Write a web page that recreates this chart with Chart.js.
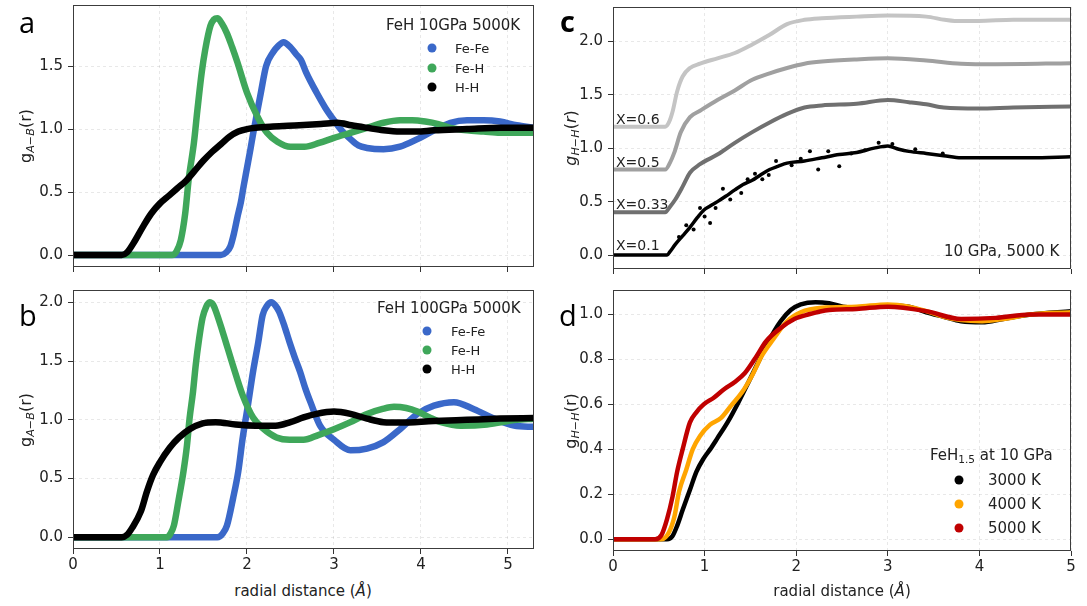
<!DOCTYPE html>
<html>
<head>
<meta charset="utf-8">
<script src="https://cdn.jsdelivr.net/npm/chart.js@4.4.0/dist/chart.umd.min.js"></script>
<style>
  html, body { margin: 0; padding: 0; background: #fff; }
  #fig { position: relative; width: 1087px; height: 606px; overflow: hidden;
         font-family: 'DejaVu Sans', sans-serif; color: #222; }
  canvas { position: absolute; }
  .txt { position: absolute; white-space: nowrap; line-height: 1; }
  .letter { font-family: 'Open Sans', sans-serif; font-size: 29px; line-height: 29px; color: #000; }
  .ylab { font-size: 16px; transform: translate(-50%, -50%) rotate(-90deg); }
  .xlab { font-size: 15px; transform: translate(-50%, -50%); }
  .mid { transform: translateY(-50%); }
  .sub { font-size: 0.7em; position: relative; top: 0.3em; }
  .dot { position: absolute; width: 9px; height: 9px; border-radius: 50%; transform: translate(-50%, -50%); }
</style>
</head>
<body>
<div id="fig">
  <canvas id="chartA"></canvas>
  <canvas id="chartB"></canvas>
  <canvas id="chartC"></canvas>
  <canvas id="chartD"></canvas>

  <!-- panel letters -->
  <div class="txt letter" style="left:19px; top:7px">a</div>
  <div class="txt letter" style="left:19px; top:300px">b</div>
  <div class="txt letter" style="left:560px; top:6px; font-weight:bold">c</div>
  <div class="txt letter" style="left:559px; top:300px">d</div>

  <!-- axis titles -->
  <div class="txt ylab" style="left:26px; top:136px">g<span class="sub"><i>A</i>−<i>B</i></span>(r)</div>
  <div class="txt ylab" style="left:26px; top:420px">g<span class="sub"><i>A</i>−<i>B</i></span>(r)</div>
  <div class="txt ylab" style="left:571px; top:138px"><i>g</i><span class="sub"><i>H</i>−<i>H</i></span>(<i>r</i>)</div>
  <div class="txt ylab" style="left:571px; top:421px">g<span class="sub"><i>H</i>−<i>H</i></span>(r)</div>
  <div class="txt xlab" style="left:303px; top:591px">radial distance (<i>Å</i>)</div>
  <div class="txt xlab" style="left:842px; top:591px">radial distance (<i>Å</i>)</div>

  <!-- legend a -->
  <div class="txt mid" style="left:386px; top:25px; font-size:15px">FeH 10GPa 5000K</div>
  <div class="dot" style="left:432px; top:48px; background:#3a68c9"></div>
  <div class="dot" style="left:432px; top:68px; background:#3fa75a"></div>
  <div class="dot" style="left:432px; top:87px; background:#000"></div>
  <div class="txt mid" style="left:455px; top:48px; font-size:13px">Fe-Fe</div>
  <div class="txt mid" style="left:455px; top:68px; font-size:13px">Fe-H</div>
  <div class="txt mid" style="left:455px; top:87px; font-size:13px">H-H</div>

  <!-- legend b -->
  <div class="txt mid" style="left:377px; top:308px; font-size:15px">FeH 100GPa 5000K</div>
  <div class="dot" style="left:427px; top:331px; background:#3a68c9"></div>
  <div class="dot" style="left:427px; top:350px; background:#3fa75a"></div>
  <div class="dot" style="left:427px; top:369px; background:#000"></div>
  <div class="txt mid" style="left:451px; top:331px; font-size:13px">Fe-Fe</div>
  <div class="txt mid" style="left:451px; top:350px; font-size:13px">Fe-H</div>
  <div class="txt mid" style="left:451px; top:369px; font-size:13px">H-H</div>

  <!-- panel c labels -->
  <div class="txt mid" style="left:616px; top:119px; font-size:14px">X=0.6</div>
  <div class="txt mid" style="left:616px; top:162px; font-size:14px">X=0.5</div>
  <div class="txt mid" style="left:616px; top:204px; font-size:14px">X=0.33</div>
  <div class="txt mid" style="left:616px; top:245px; font-size:14px">X=0.1</div>
  <div class="txt mid" style="left:944px; top:251px; font-size:15px">10 GPa, 5000 K</div>

  <!-- legend d -->
  <div class="txt mid" style="left:930px; top:455px; font-size:15px">FeH<span class="sub">1.5</span> at 10 GPa</div>
  <div class="dot" style="left:959px; top:480px; background:#000"></div>
  <div class="dot" style="left:959px; top:504px; background:#ffa500"></div>
  <div class="dot" style="left:959px; top:528px; background:#c00000"></div>
  <div class="txt mid" style="left:988px; top:480px; font-size:15px">3000 K</div>
  <div class="txt mid" style="left:988px; top:504px; font-size:15px">4000 K</div>
  <div class="txt mid" style="left:988px; top:528px; font-size:15px">5000 K</div>
</div>

<script>
// ---- tick values ----
const xTicks = [0, 1, 2, 3, 4, 5];
const yTicksA = [0, 0.5, 1.0, 1.5];
const yTicksB = [0, 0.5, 1.0, 1.5, 2.0];
const yTicksC = [0, 0.5, 1.0, 1.5, 2.0];
const yTicksD = [0, 0.2, 0.4, 0.6, 0.8, 1.0];

// ---- panel a: FeH 10 GPa 5000 K, [r, g] ----
const feFe10 = [[0,0],[1.70,0],[1.76,0.02],[1.81,0.07],[1.85,0.17],[1.89,0.30],[1.93,0.42],[1.96,0.54],[2.00,0.69],[2.04,0.84],[2.07,0.96],[2.10,1.07],[2.16,1.29],[2.22,1.50],[2.30,1.61],[2.36,1.66],[2.42,1.69],[2.50,1.65],[2.57,1.59],[2.62,1.55],[2.68,1.45],[2.80,1.29],[2.90,1.17],[3.00,1.07],[3.10,0.98],[3.19,0.92],[3.28,0.87],[3.38,0.85],[3.57,0.84],[3.76,0.86],[3.96,0.92],[4.15,0.99],[4.34,1.05],[4.53,1.07],[4.72,1.07],[4.91,1.06],[5.10,1.03],[5.30,1.01]];
const feH10 = [[0,0],[1.14,0],[1.19,0.03],[1.24,0.12],[1.29,0.33],[1.33,0.60],[1.39,0.89],[1.43,1.15],[1.48,1.45],[1.52,1.63],[1.58,1.82],[1.62,1.87],[1.66,1.88],[1.71,1.84],[1.77,1.76],[1.83,1.65],[1.89,1.53],[2.00,1.29],[2.12,1.10],[2.23,0.97],[2.35,0.90],[2.50,0.86],[2.66,0.86],[2.83,0.89],[3.00,0.93],[3.19,0.97],[3.38,1.01],[3.57,1.05],[3.76,1.07],[3.90,1.07],[4.05,1.06],[4.20,1.04],[4.34,1.01],[4.53,0.99],[4.72,0.98],[4.91,0.97],[5.30,0.97]];
const hH10 = [[0,0],[0.56,0],[0.62,0.02],[0.70,0.10],[0.80,0.22],[0.90,0.33],[1.00,0.41],[1.10,0.47],[1.20,0.53],[1.30,0.59],[1.40,0.67],[1.50,0.75],[1.60,0.82],[1.70,0.88],[1.80,0.94],[1.90,0.98],[2.00,1.00],[2.10,1.01],[2.30,1.02],[2.60,1.03],[2.85,1.04],[3.04,1.05],[3.20,1.03],[3.38,1.01],[3.57,0.99],[3.76,0.98],[3.95,0.98],[4.15,0.99],[4.53,1.00],[4.91,1.01],[5.30,1.01]];

// ---- panel b: FeH 100 GPa 5000 K ----
const feFe100 = [[0,0],[1.66,0],[1.72,0.03],[1.77,0.10],[1.84,0.33],[1.90,0.56],[1.95,0.84],[2.01,1.12],[2.07,1.41],[2.13,1.66],[2.18,1.89],[2.23,1.97],[2.28,2.00],[2.33,1.97],[2.37,1.92],[2.43,1.80],[2.49,1.66],[2.55,1.53],[2.61,1.41],[2.67,1.27],[2.73,1.15],[2.84,0.95],[3.00,0.83],[3.19,0.74],[3.38,0.755],[3.57,0.81],[3.76,0.92],[3.96,1.05],[4.15,1.12],[4.38,1.15],[4.61,1.09],[4.84,1.01],[5.07,0.95],[5.30,0.94]];
const feH100 = [[0,0],[1.08,0],[1.12,0.03],[1.16,0.10],[1.21,0.30],[1.27,0.56],[1.31,0.78],[1.34,1.01],[1.38,1.24],[1.41,1.46],[1.45,1.69],[1.49,1.87],[1.53,1.96],[1.57,2.00],[1.61,1.98],[1.64,1.93],[1.72,1.75],[1.84,1.46],[1.95,1.21],[2.07,1.02],[2.18,0.93],[2.34,0.85],[2.49,0.83],[2.65,0.83],[2.82,0.87],[3.00,0.92],[3.19,0.98],[3.38,1.05],[3.55,1.09],[3.69,1.11],[3.83,1.10],[3.96,1.07],[4.10,1.02],[4.23,0.98],[4.46,0.95],[4.76,0.96],[5.10,1.00],[5.30,1.01]];
const hH100 = [[0,0],[0.56,0],[0.62,0.02],[0.68,0.08],[0.78,0.22],[0.85,0.39],[0.92,0.53],[1.00,0.64],[1.11,0.76],[1.22,0.85],[1.34,0.92],[1.49,0.97],[1.64,0.98],[1.87,0.96],[2.10,0.95],[2.33,0.95],[2.50,0.98],[2.65,1.02],[2.80,1.05],[3.00,1.07],[3.19,1.05],[3.38,1.01],[3.57,0.98],[3.76,0.976],[4.15,0.99],[4.53,1.00],[4.91,1.01],[5.30,1.015]];

// ---- panel c: g_HH for several X (offset curves) ----
const x06 = [[0,1.2],[0.57,1.2],[0.61,1.24],[0.65,1.34],[0.70,1.53],[0.76,1.67],[0.84,1.75],[0.95,1.79],[1.14,1.84],[1.33,1.89],[1.52,1.97],[1.71,2.06],[1.90,2.16],[2.09,2.20],[2.28,2.215],[2.66,2.23],[3.00,2.24],[3.42,2.23],[3.62,2.20],[3.73,2.19],[3.99,2.19],[4.37,2.20],[5.00,2.20]];
const x05 = [[0,0.8],[0.57,0.8],[0.62,0.86],[0.67,0.96],[0.74,1.15],[0.84,1.29],[0.95,1.35],[1.14,1.45],[1.33,1.54],[1.52,1.64],[1.71,1.70],[1.90,1.75],[2.09,1.79],[2.28,1.81],[2.66,1.83],[3.00,1.84],[3.42,1.82],[3.80,1.79],[4.18,1.785],[5.00,1.795]];
const x033 = [[0,0.4],[0.57,0.4],[0.62,0.45],[0.68,0.52],[0.76,0.64],[0.84,0.77],[0.95,0.85],[1.14,0.94],[1.33,1.05],[1.52,1.15],[1.71,1.24],[1.90,1.32],[2.09,1.38],[2.28,1.40],[2.66,1.415],[3.00,1.45],[3.23,1.43],[3.42,1.41],[3.61,1.38],[3.99,1.37],[4.37,1.38],[5.00,1.39]];
const x01 = [[0,0],[0.59,0],[0.62,0.03],[0.68,0.10],[0.76,0.18],[0.84,0.26],[0.92,0.35],[0.99,0.42],[1.06,0.46],[1.14,0.50],[1.23,0.55],[1.33,0.61],[1.42,0.66],[1.52,0.70],[1.61,0.75],[1.71,0.80],[1.80,0.83],[1.90,0.86],[2.09,0.88],[2.28,0.91],[2.47,0.94],[2.66,0.96],[2.85,1.00],[3.00,1.02],[3.12,0.99],[3.23,0.97],[3.42,0.95],[3.61,0.93],[3.80,0.91],[4.18,0.91],[4.56,0.91],[5.00,0.92]];
const x01Stray = [[0.72,0.17],[0.80,0.28],[0.88,0.24],[0.95,0.44],[1.00,0.36],[1.06,0.30],[1.12,0.44],[1.20,0.62],[1.28,0.52],[1.40,0.58],[1.47,0.71],[1.55,0.76],[1.63,0.71],[1.70,0.75],[1.78,0.88],[1.95,0.84],[2.05,0.90],[2.15,0.97],[2.24,0.80],[2.35,0.97],[2.47,0.83],[2.60,0.95],[2.75,0.98],[2.90,1.05],[3.05,1.04],[3.30,0.99],[3.60,0.95]];

// ---- panel d: FeH1.5 at 10 GPa ----
const t3000 = [[0,0],[0.59,0],[0.65,0.015],[0.70,0.06],[0.76,0.13],[0.84,0.22],[0.91,0.30],[0.99,0.36],[1.06,0.40],[1.14,0.45],[1.25,0.52],[1.37,0.61],[1.48,0.70],[1.60,0.80],[1.71,0.89],[1.83,0.97],[1.94,1.02],[2.05,1.045],[2.21,1.055],[2.36,1.05],[2.51,1.035],[2.66,1.03],[3.00,1.04],[3.23,1.035],[3.42,1.01],[3.61,0.99],[3.80,0.97],[4.03,0.965],[4.26,0.98],[4.56,1.00],[5.00,1.015]];
const t4000 = [[0,0],[0.53,0],[0.61,0.03],[0.67,0.10],[0.72,0.21],[0.80,0.31],[0.87,0.40],[0.95,0.46],[1.06,0.51],[1.18,0.54],[1.29,0.595],[1.41,0.655],[1.52,0.73],[1.63,0.82],[1.75,0.89],[1.90,0.97],[2.05,1.01],[2.28,1.03],[2.66,1.035],[3.00,1.045],[3.23,1.035],[3.42,1.015],[3.61,0.99],[3.80,0.975],[4.03,0.97],[4.26,0.98],[4.56,1.00],[5.00,1.01]];
const t5000 = [[0,0],[0.46,0],[0.53,0.02],[0.59,0.09],[0.65,0.19],[0.70,0.30],[0.76,0.40],[0.84,0.52],[0.91,0.565],[0.99,0.60],[1.10,0.63],[1.22,0.67],[1.33,0.70],[1.44,0.74],[1.56,0.81],[1.67,0.88],[1.83,0.94],[1.98,0.98],[2.13,1.00],[2.36,1.02],[2.66,1.025],[3.00,1.035],[3.42,1.015],[3.80,0.98],[4.18,0.985],[4.56,1.00],[5.00,1.00]];

const BLUE = '#3a68c9', GREEN = '#3fa75a', BLACK = '#000000';

Chart.defaults.font.family = "'DejaVu Sans', sans-serif";
Chart.defaults.font.size = 15;
Chart.defaults.color = '#222';

const toXY = pts => pts.map(([x, y]) => ({ x, y }));

function curve(pts, color, width, order) {
    return {
        data: toXY(pts),
        showLine: true,
        borderColor: color,
        backgroundColor: color,
        borderWidth: width,
        pointRadius: 0,
        cubicInterpolationMode: 'monotone',
        order: order
    };
}

// matplotlib-style box around the plot area
const frame = {
    id: 'frame',
    afterDatasetsDraw(chart) {
        const { ctx, chartArea: a } = chart;
        ctx.save();
        ctx.strokeStyle = '#3c3c3c';
        ctx.lineWidth = 1;
        ctx.strokeRect(a.left + 0.5, a.top + 0.5, a.right - a.left - 1, a.bottom - a.top - 1);
        ctx.restore();
    }
};

// fixed axis sizes, and no extra room for labels at the ends
function fixSize(s, prop, val) {
    s[prop] = val;
    s.paddingTop = 0; s.paddingBottom = 0;
    s.paddingLeft = 0; s.paddingRight = 0;
}

function makePanel(id, p) {
    const cv = document.getElementById(id);
    const axisH = p.xLabels ? 30 : 8;
    const left = p.L - 50, top = p.T - 5;
    cv.width = p.R - left + 8;
    cv.height = p.B - top + axisH;
    cv.style.left = left + 'px';
    cv.style.top = top + 'px';

    const grid = {
        color: 'rgba(0,0,0,0.09)',
        lineWidth: 1,
        drawTicks: true,
        tickLength: 5,
        tickColor: '#333',
        tickWidth: 1,
        tickBorderDash: []
    };

    new Chart(cv, {
        type: 'scatter',
        data: { datasets: p.datasets },
        options: {
            responsive: false,
            devicePixelRatio: 1,
            animation: false,
            layout: { padding: { top: 5, right: 8, left: 0, bottom: 0 } },
            plugins: { legend: { display: false }, tooltip: { enabled: false } },
            scales: {
                x: {
                    type: 'linear', min: 0, max: p.xMax,
                    afterBuildTicks: s => { s.ticks = xTicks.map(v => ({ value: v })); },
                    afterFit: s => fixSize(s, 'height', axisH),
                    grid: grid,
                    border: { display: false, dash: [3, 3] },
                    ticks: { display: p.xLabels, padding: 2, callback: v => String(v) }
                },
                y: {
                    type: 'linear', min: p.yMin, max: p.yMax,
                    afterBuildTicks: s => { s.ticks = p.yTicks.map(v => ({ value: v })); },
                    afterFit: s => fixSize(s, 'width', 50),
                    grid: grid,
                    border: { display: false, dash: [3, 3] },
                    ticks: { padding: 5, callback: v => Number(v).toFixed(1) }
                }
            }
        },
        plugins: [frame]
    });
}

makePanel('chartA', {
    L: 73, R: 534, T: 5, B: 267, xMax: 5.3, yMin: -0.095, yMax: 1.985,
    yTicks: yTicksA, xLabels: false,
    datasets: [curve(feFe10, BLUE, 6.5, 3), curve(feH10, GREEN, 6.5, 2), curve(hH10, BLACK, 6.5, 1)]
});

makePanel('chartB', {
    L: 73, R: 534, T: 290, B: 549, xMax: 5.3, yMin: -0.1, yMax: 2.105,
    yTicks: yTicksB, xLabels: true,
    datasets: [curve(feFe100, BLUE, 6.5, 3), curve(feH100, GREEN, 6.5, 2), curve(hH100, BLACK, 6.5, 1)]
});

makePanel('chartC', {
    L: 613, R: 1071, T: 7, B: 269, xMax: 5, yMin: -0.13, yMax: 2.32,
    yTicks: yTicksC, xLabels: false,
    datasets: [
        curve(x06, '#c4c4c4', 4, 4),
        curve(x05, '#a0a0a0', 4, 3),
        curve(x033, '#707070', 4, 2),
        curve(x01, BLACK, 3.5, 1),
        { data: toXY(x01Stray), showLine: false, pointRadius: 2, pointBorderWidth: 0,
          backgroundColor: BLACK, borderColor: BLACK, order: 0 }
    ]
});

makePanel('chartD', {
    L: 613, R: 1071, T: 290, B: 551, xMax: 5, yMin: -0.052, yMax: 1.109,
    yTicks: yTicksD, xLabels: true,
    datasets: [curve(t3000, BLACK, 4.5, 3), curve(t4000, '#ffa500', 4.5, 2), curve(t5000, '#c00000', 4.5, 1)]
});
</script>
</body>
</html>
